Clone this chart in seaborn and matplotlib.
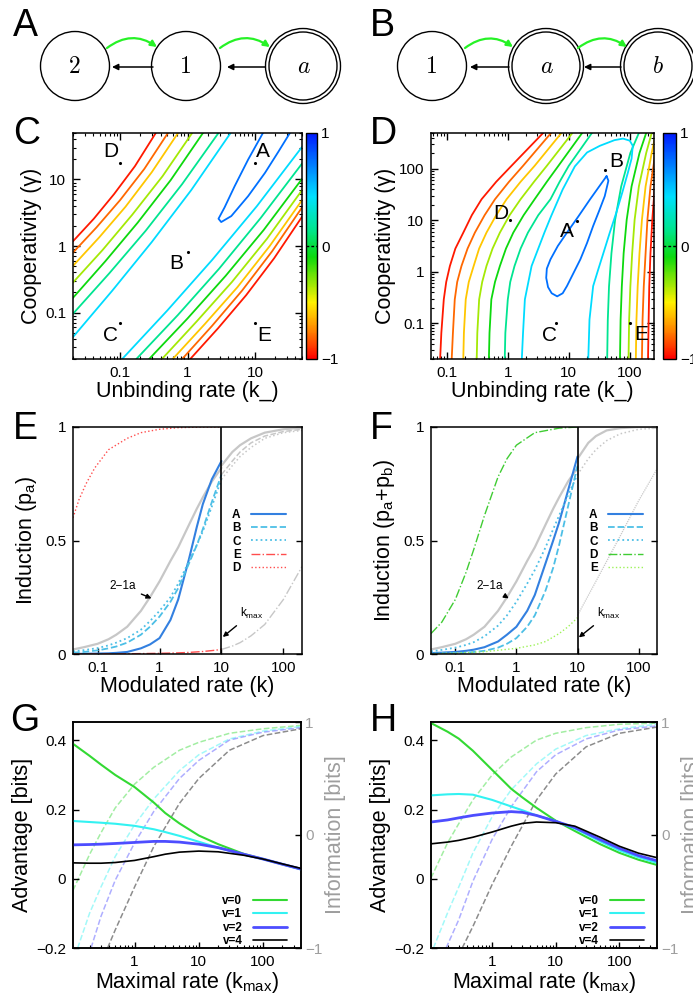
import numpy as np
import matplotlib
matplotlib.use("Agg")
import matplotlib.pyplot as plt
import seaborn as sns
from matplotlib.colors import LinearSegmentedColormap, Normalize
from matplotlib.cm import ScalarMappable
from matplotlib.patches import Circle, FancyArrowPatch
import matplotlib.ticker as mticker

# ---------------------------------------------------------------- data
# network diagrams (A, B)
netA_labels = ["2", "1", "a"]
netA_double = [False, False, True]
netB_labels = ["1", "a", "b"]
netB_double = [False, True, True]

# contour levels (colour values on the -1..1 scale)
side_levels = [-0.95, -0.8, -0.6, -0.35, -0.1, 0.15, 0.45]
loop_level_C = 0.75
D_left_levels = [-0.95, -0.8, -0.6, -0.35, -0.1, 0.15]
D_right_levels = [0.15, -0.1, -0.35, -0.6, -0.8, -0.95]
D_outer_loop_level = 0.45
D_inner_loop_level = 0.75

# panel C contour lines (log10 k_, log10 gamma)
C_ul_lx = [[-1.70, -1.39, -1.09, -0.78, -0.47],
           [-1.70, -1.35, -1.00, -0.64, -0.29],
           [-1.70, -1.31, -0.92, -0.53, -0.14],
           [-1.70, -1.26, -0.82, -0.37, 0.07],
           [-1.70, -1.22, -0.74, -0.25, 0.23],
           [-1.70, -1.16, -0.62, -0.08, 0.46],
           [-1.70, -1.115, -0.53, 0.055, 0.64]]
C_ul_ly = [[0.07, 0.41, 0.78, 1.20, 1.70],
           [-0.10, 0.28, 0.69, 1.16, 1.70],
           [-0.30, 0.13, 0.59, 1.11, 1.70],
           [-0.55, -0.06, 0.47, 1.05, 1.70],
           [-0.78, -0.23, 0.35, 0.99, 1.70],
           [-1.02, -0.41, 0.23, 0.93, 1.70],
           [-1.37, -0.67, 0.06, 0.84, 1.70]]
C_lr_lx = [[0.04, 0.455, 0.87, 1.285, 1.70],
           [-0.08, 0.365, 0.81, 1.255, 1.70],
           [-0.22, 0.26, 0.74, 1.22, 1.70],
           [-0.38, 0.14, 0.66, 1.18, 1.70],
           [-0.57, 0.0, 0.565, 1.13, 1.70],
           [-0.76, -0.145, 0.47, 1.085, 1.70],
           [-0.97, -0.30, 0.365, 1.03, 1.70]]
C_lr_ly = [[-1.70, -1.235, -0.74, -0.185, 0.44],
           [-1.70, -1.20, -0.67, -0.08, 0.58],
           [-1.70, -1.17, -0.62, 0.00, 0.69],
           [-1.70, -1.13, -0.54, 0.11, 0.84],
           [-1.70, -1.09, -0.45, 0.24, 1.01],
           [-1.70, -1.04, -0.34, 0.42, 1.24],
           [-1.70, -0.97, -0.21, 0.60, 1.49]]
C_loop_lx = [1.12, 0.90, 0.70, 0.55, 0.46, 0.50, 0.65, 0.90, 1.15, 1.35, 1.52]
C_loop_ly = [1.70, 1.30, 0.90, 0.58, 0.41, 0.36, 0.45, 0.75, 1.10, 1.42, 1.70]

# panel D contour lines
D_left_ly = [-1.70, -1.19, -0.54, -0.20, 0.11, 0.45, 0.76, 1.10, 1.41, 1.75, 2.06, 2.70]
D_left_lx = [[-1.11, -1.09, -1.05, -1.01, -0.95, -0.86, -0.73, -0.59, -0.43, -0.19, 0.06, 0.58],
             [-0.92, -0.90, -0.87, -0.83, -0.76, -0.66, -0.54, -0.38, -0.21, 0.02, 0.25, 0.71],
             [-0.73, -0.72, -0.69, -0.64, -0.56, -0.47, -0.35, -0.19, -0.02, 0.21, 0.44, 0.88],
             [-0.51, -0.50, -0.47, -0.42, -0.35, -0.25, -0.13, 0.03, 0.21, 0.43, 0.64, 1.06],
             [-0.31, -0.30, -0.27, -0.21, -0.13, -0.03, 0.09, 0.26, 0.44, 0.64, 0.83, 1.22],
             [-0.05, -0.04, 0.00, 0.04, 0.11, 0.21, 0.33, 0.50, 0.70, 0.85, 1.00, 1.38]]
D_right_ly = [-1.70, -0.94, -0.29, 0.36, 1.01, 1.66, 2.31, 2.70]
D_right_lx = [[1.63, 1.64, 1.66, 1.70, 1.76, 1.86, 2.01, 2.15],
              [1.84, 1.85, 1.87, 1.90, 1.95, 2.03, 2.16, 2.27],
              [1.98, 1.99, 2.01, 2.04, 2.08, 2.15, 2.27, 2.36],
              [2.10, 2.11, 2.13, 2.16, 2.20, 2.26, 2.36, 2.43],
              [2.20, 2.21, 2.23, 2.26, 2.29, 2.34, 2.42, 2.48],
              [2.30, 2.31, 2.32, 2.34, 2.37, 2.41, 2.47, 2.52]]
D_outer_lx = [0.23, 0.25, 0.28, 0.39, 0.60, 0.71, 0.90, 1.10, 1.30, 1.51, 1.75, 1.89,
              2.00, 2.05, 2.03, 1.97, 1.88, 1.78, 1.67, 1.57, 1.48, 1.40, 1.34, 1.32]
D_outer_ly = [-1.70, -1.19, -0.54, 0.11, 0.76, 1.08, 1.60, 2.05, 2.32, 2.45, 2.56, 2.59,
              2.55, 2.45, 2.20, 1.93, 1.55, 1.15, 0.75, 0.37, 0.03, -0.28, -0.93, -1.70]
D_inner_lx = [1.62, 1.50, 1.35, 1.16, 0.97, 0.82, 0.70, 0.64, 0.63, 0.66, 0.72, 0.81,
              0.90, 0.97, 1.08, 1.19, 1.30, 1.40, 1.50, 1.59, 1.65, 1.62]
D_inner_ly = [1.86, 1.66, 1.41, 1.08, 0.76, 0.50, 0.24, 0.06, -0.12, -0.30, -0.42, -0.48,
              -0.42, -0.28, -0.02, 0.24, 0.56, 0.89, 1.19, 1.47, 1.77, 1.86]

# marked parameter points
pt_names = ["A", "B", "C", "D", "E"]
C_pt_k = [10, 1.0, 0.1, 0.1, 10]
C_pt_g = [18, 0.8, 0.07, 18, 0.07]
D_pt_k = [13.5, 40, 6.2, 1.1, 100]
D_pt_g = [9.8, 96, 0.1, 10, 0.1]

# panel E / F induction curves
k_left = [0.04, 0.06, 0.1, 0.15, 0.2, 0.3, 0.5, 0.7, 1, 1.5, 2, 3, 4, 5, 7, 10]
ref_2_1a = [0.02, 0.03, 0.045, 0.065, 0.085, 0.12, 0.19, 0.25, 0.32, 0.41, 0.47,
            0.57, 0.64, 0.69, 0.76, 0.82]
E_A = [0.0, 0.001, 0.002, 0.003, 0.005, 0.009, 0.025, 0.042, 0.07, 0.15, 0.24,
       0.42, 0.56, 0.66, 0.77, 0.85]
E_B = [0.006, 0.009, 0.016, 0.025, 0.033, 0.05, 0.085, 0.12, 0.165, 0.23, 0.29,
       0.40, 0.48, 0.55, 0.67, 0.79]
E_C = [0.012, 0.017, 0.026, 0.038, 0.05, 0.07, 0.107, 0.145, 0.19, 0.25, 0.31,
       0.41, 0.48, 0.54, 0.65, 0.77]
E_E_k = [0.04, 0.1, 0.3, 1, 2, 3, 5, 7, 10]
E_E = [0.0, 0.0, 0.001, 0.003, 0.005, 0.007, 0.011, 0.015, 0.02]
E_D_k = [0.04, 0.05, 0.065, 0.09, 0.15, 0.3, 0.5, 1, 2, 5, 10]
E_D = [0.60, 0.68, 0.75, 0.82, 0.90, 0.95, 0.975, 0.99, 0.997, 1.0, 1.0]
k_right = [10, 15, 20, 30, 50, 100, 200]
E_gray_solid = [0.83, 0.89, 0.92, 0.95, 0.975, 0.99, 0.997]
E_gray_dash = [0.79, 0.85, 0.89, 0.93, 0.96, 0.98, 0.99]
E_gray_dot = [0.77, 0.83, 0.87, 0.91, 0.95, 0.975, 0.985]
E_gray_dashdot = [0.02, 0.035, 0.05, 0.08, 0.13, 0.24, 0.385]

F_A = [0.004, 0.006, 0.009, 0.014, 0.019, 0.03, 0.055, 0.085, 0.12, 0.19, 0.26,
       0.40, 0.50, 0.58, 0.72, 0.87]
F_B = [0.001, 0.002, 0.004, 0.006, 0.009, 0.014, 0.028, 0.045, 0.07, 0.12, 0.17,
       0.28, 0.38, 0.48, 0.65, 0.83]
F_C = [0.012, 0.018, 0.028, 0.04, 0.052, 0.078, 0.125, 0.17, 0.23, 0.31, 0.37,
       0.47, 0.55, 0.61, 0.70, 0.79]
F_D_k = [0.04, 0.06, 0.1, 0.15, 0.2, 0.3, 0.5, 0.7, 1, 2, 5, 10]
F_D = [0.09, 0.14, 0.24, 0.36, 0.46, 0.61, 0.78, 0.86, 0.92, 0.975, 0.995, 1.0]
F_E_k = [0.04, 0.1, 0.3, 1, 2, 3, 5, 7, 10]
F_E = [0.002, 0.004, 0.01, 0.025, 0.04, 0.055, 0.09, 0.12, 0.16]
F_gray_solid = [0.86, 0.93, 0.96, 0.985, 0.995, 1.0, 1.0]
F_gray_dot = [0.79, 0.86, 0.90, 0.94, 0.97, 0.99, 0.995]
F_gray_E_k = [10, 20, 50, 100, 200]
F_gray_E = [0.17, 0.32, 0.52, 0.675, 0.815]

# panel G / H advantage & information
v_labels = ["v=0", "v=1", "v=2", "v=4"]
kmax = [0.11, 0.2, 0.3, 0.5, 1, 2, 3, 5, 10, 20, 50, 100, 200, 390]
G_adv = [[0.39, 0.355, 0.33, 0.30, 0.265, 0.22, 0.19, 0.16, 0.125, 0.10, 0.072, 0.057, 0.042, 0.028],
         [0.167, 0.164, 0.162, 0.159, 0.153, 0.143, 0.135, 0.124, 0.107, 0.09, 0.07, 0.057, 0.042, 0.027],
         [0.098, 0.099, 0.10, 0.102, 0.105, 0.108, 0.108, 0.106, 0.10, 0.09, 0.071, 0.057, 0.042, 0.028],
         [0.046, 0.045, 0.045, 0.047, 0.053, 0.064, 0.071, 0.077, 0.08, 0.078, 0.068, 0.057, 0.043, 0.030]]
G_info_k = [[0.11, 0.2, 0.3, 0.5, 1, 2, 5, 10, 30, 100, 390],
            [0.13, 0.2, 0.3, 0.5, 1, 2, 5, 10, 30, 100, 390],
            [0.21, 0.3, 0.5, 1, 2, 5, 10, 30, 100, 390],
            [0.38, 0.5, 1, 2, 5, 10, 30, 100, 390]]
G_info = [[-0.49, -0.17, 0.02, 0.24, 0.45, 0.60, 0.75, 0.82, 0.90, 0.94, 0.97],
          [-1.0, -0.69, -0.46, -0.19, 0.09, 0.32, 0.57, 0.71, 0.85, 0.92, 0.96],
          [-1.0, -0.72, -0.40, -0.07, 0.21, 0.50, 0.66, 0.84, 0.91, 0.95],
          [-1.0, -0.84, -0.46, -0.10, 0.28, 0.50, 0.75, 0.88, 0.94]]
H_adv = [[0.45, 0.425, 0.405, 0.37, 0.315, 0.26, 0.235, 0.205, 0.168, 0.138, 0.10, 0.075, 0.055, 0.04],
         [0.241, 0.244, 0.245, 0.243, 0.228, 0.209, 0.198, 0.183, 0.167, 0.145, 0.108, 0.082, 0.062, 0.046],
         [0.164, 0.17, 0.176, 0.183, 0.19, 0.194, 0.192, 0.183, 0.166, 0.148, 0.113, 0.088, 0.067, 0.052],
         [0.101, 0.106, 0.111, 0.12, 0.135, 0.152, 0.16, 0.164, 0.162, 0.152, 0.12, 0.094, 0.074, 0.061]]
H_info_k = [[0.11, 0.2, 0.3, 0.5, 1, 2, 5, 10, 30, 100, 390],
            [0.12, 0.2, 0.3, 0.5, 1, 2, 5, 10, 30, 100, 390],
            [0.19, 0.3, 0.5, 1, 2, 5, 10, 30, 100, 390],
            [0.34, 0.5, 1, 2, 5, 10, 30, 100, 390]]
H_info = [[-0.38, -0.07, 0.10, 0.31, 0.53, 0.69, 0.84, 0.90, 0.95, 0.98, 0.99],
          [-1.0, -0.69, -0.46, -0.16, 0.16, 0.40, 0.63, 0.76, 0.88, 0.94, 0.98],
          [-1.0, -0.75, -0.41, -0.04, 0.25, 0.56, 0.71, 0.85, 0.93, 0.965],
          [-1.0, -0.81, -0.44, -0.10, 0.31, 0.54, 0.78, 0.90, 0.955]]

# ---------------------------------------------------------------- style
sns.set_theme(style="ticks")
plt.rcParams["font.family"] = ["Liberation Sans", "DejaVu Sans"]
plt.rcParams.update({
    "mathtext.default": "regular",
    "axes.edgecolor": "black", "axes.linewidth": 1.1,
    "xtick.color": "black", "ytick.color": "black",
    "xtick.direction": "in", "ytick.direction": "in",
    "text.color": "black", "axes.labelcolor": "black",
    "xtick.labelsize": 11, "ytick.labelsize": 11,
    "axes.labelsize": 15.5,
})

cmap = LinearSegmentedColormap.from_list("rainbow_r", [
    (0.00, (1.0, 0.0, 0.0)), (0.12, (1.0, 0.5, 0.0)), (0.25, (1.0, 0.95, 0.0)),
    (0.45, (0.05, 0.85, 0.05)), (0.57, (0.0, 0.9, 0.55)), (0.72, (0.0, 0.88, 1.0)),
    (1.00, (0.0, 0.1, 1.0))])
norm = Normalize(-1, 1)

W, H = 693, 999
fig = plt.figure(figsize=(W / 100, H / 100), dpi=100)


def px_axes(l, t, r, b):
    return fig.add_axes([l / W, 1 - b / H, (r - l) / W, (b - t) / H])


def letter(x, y, s):
    fig.text(x / W, 1 - y / H, s, fontsize=27, va="top", ha="left")


# ---------------------------------------------------------------- A, B diagrams
axd = px_axes(0, 0, W, 120)
axd.set_xlim(0, W)
axd.set_ylim(120, 0)
axd.axis("off")
node_y = 66
nodesA_x = [75, 186, 303]
nodesB_x = [432, 546, 658]
for xs, labs, dbl in [(nodesA_x, netA_labels, netA_double), (nodesB_x, netB_labels, netB_double)]:
    for cx, lab, d in zip(xs, labs, dbl):
        if d:
            axd.add_patch(Circle((cx, node_y), 37.5, fill=False, ec="black", lw=1.0))
            axd.add_patch(Circle((cx, node_y), 34.0, fill=False, ec="black", lw=1.0))
        else:
            axd.add_patch(Circle((cx, node_y), 34.5, fill=False, ec="black", lw=1.0))
        fam = "cmr10" if lab.isdigit() else "cmmi10"
        axd.text(cx, node_y + 1, lab, family=fam, fontsize=17, ha="center", va="center")
green_arrows = [(107, 48, 157, 47), (220, 48, 270, 47), (465, 48, 513, 47), (578, 48, 627, 47)]
black_arrows = [(153, 67, 112, 67), (265, 67, 227, 67), (509, 67, 470, 67), (621, 67, 584, 67)]
for x0, y0, x1, y1 in green_arrows:
    axd.add_patch(FancyArrowPatch((x0, y0), (x1, y1), connectionstyle="arc3,rad=-0.36",
                                  arrowstyle="-|>", mutation_scale=9, color=(0.15, 0.95, 0.15),
                                  lw=1.6, shrinkA=0, shrinkB=0))
for x0, y0, x1, y1 in black_arrows:
    axd.add_patch(FancyArrowPatch((x0, y0), (x1, y1), arrowstyle="-|>", mutation_scale=9,
                                  color="black", lw=1.1, shrinkA=0, shrinkB=0))
letter(13, 8, "A")
letter(370, 8, "B")


# ---------------------------------------------------------------- C, D contour panels
def draw_path(ax, lx, ly, level):
    sns.lineplot(x=10 ** np.asarray(lx, float), y=10 ** np.asarray(ly, float), sort=False,
                 estimator=None, ax=ax, color=cmap(norm(level)), lw=1.3, legend=False)


def log_frame(ax, xt, yt):
    ax.set_xscale("log")
    ax.set_yscale("log")
    ax.set_xticks(xt)
    ax.set_xticklabels([f"{t:g}" for t in xt])
    ax.set_yticks(yt)
    ax.set_yticklabels([f"{t:g}" for t in yt])
    ax.tick_params(which="both", top=True, right=True, direction="in")
    ax.tick_params(which="major", length=5, width=1, pad=5)
    ax.tick_params(which="minor", length=2.5, width=0.8)


def colorbar(l, t, r, b):
    cax = px_axes(l, t, r, b)
    cb = fig.colorbar(ScalarMappable(norm=norm, cmap=cmap), cax=cax, ticks=[-1, 0, 1])
    cb.ax.set_yticklabels(["\u22121", "0", "1"])
    cb.ax.tick_params(length=0, labelsize=11, pad=3)
    cb.outline.set_linewidth(1.0)
    cax.axhline(0, color="black", ls="--", lw=1.0, dashes=(2, 1.5))


def point_labels(ax, ks, gs, offsets):
    sns.scatterplot(x=ks, y=gs, ax=ax, color="black", s=5, linewidth=0, legend=False, zorder=5)
    for name, k, g, (dx, dy) in zip(pt_names, ks, gs, offsets):
        ax.annotate(name, (k, g), xytext=(dx, dy), textcoords="offset points",
                    ha="center", va="center", fontsize=15)


axC = px_axes(73, 133, 302, 359)
for lx, ly, lev in zip(C_ul_lx, C_ul_ly, side_levels):
    draw_path(axC, lx, ly, lev)
for lx, ly, lev in zip(C_lr_lx, C_lr_ly, side_levels):
    draw_path(axC, lx, ly, lev)
draw_path(axC, C_loop_lx, C_loop_ly, loop_level_C)
log_frame(axC, [0.1, 1, 10], [0.1, 1, 10])
axC.set_xlim(0.02, 50)
axC.set_ylim(0.02, 50)
point_labels(axC, C_pt_k, C_pt_g, [(6, 8), (-8, -8), (-7, -9), (-7, 8), (7, -9)])
axC.set_xlabel("Unbinding rate (k_)", labelpad=1)
axC.set_ylabel("Cooperativity (\u03b3)", labelpad=2)
colorbar(306, 133, 317, 359)
letter(13, 116, "C")

axD = px_axes(431, 133, 654, 359)
for lx, lev in zip(D_left_lx, D_left_levels):
    draw_path(axD, lx, D_left_ly, lev)
for lx, lev in zip(D_right_lx, D_right_levels):
    draw_path(axD, lx, D_right_ly, lev)
draw_path(axD, D_outer_lx, D_outer_ly, D_outer_loop_level)
draw_path(axD, D_inner_lx, D_inner_ly, D_inner_loop_level)
log_frame(axD, [0.1, 1, 10, 100], [0.1, 1, 10, 100])
axD.set_xlim(0.055, 250)
axD.set_ylim(0.02, 500)
point_labels(axD, D_pt_k, D_pt_g, [(-7, -8), (8, 6), (-5, -9), (-7, 5), (8, -8)])
axD.set_xlabel("Unbinding rate (k_)", labelpad=1)
axD.set_ylabel("Cooperativity (\u03b3)", labelpad=2)
colorbar(663, 133, 676, 359)
letter(370, 116, "D")

# ---------------------------------------------------------------- E, F induction panels
colA = (0.2, 0.5, 0.88)
colBC = (0.3, 0.75, 0.9)
colRed = (1.0, 0.3, 0.3)
colGray = (0.78, 0.78, 0.78)
colDF = (0.25, 0.8, 0.2)
colEF = (0.62, 0.95, 0.35)


def line(ax, x, y, color, lw=1.3, ls="-", label=None, **kw):
    sns.lineplot(x=x, y=y, ax=ax, color=color, lw=lw, linestyle=ls, label=label,
                 legend=False, sort=False, estimator=None, **kw)


def induction_frame(ax, ylabel):
    ax.set_xscale("log")
    ax.set_xlim(0.04, 200)
    ax.set_ylim(0, 1)
    ax.set_xticks([0.1, 1, 10, 100])
    ax.set_xticklabels(["0.1", "1", "10", "100"])
    ax.xaxis.set_minor_locator(mticker.NullLocator())
    ax.set_yticks([0, 0.5, 1])
    ax.set_yticklabels(["0", "0.5", "1"])
    ax.tick_params(which="major", right=True, top=False, length=4, width=1, pad=5)
    ax.axvline(10, color="black", lw=1.2)
    ax.set_xlabel("Modulated rate (k)", labelpad=1)
    ax.set_ylabel(ylabel, labelpad=4)


def small_legend(ax, handles, labels, x, y):
    leg = ax.legend(handles, labels, loc="upper left", bbox_to_anchor=(x, y), frameon=False,
                    markerfirst=False, handlelength=2.9, handletextpad=0.9,
                    labelspacing=0.12, borderpad=0, borderaxespad=0,
                    prop={"weight": "bold", "size": 8.5})
    return leg


axE = px_axes(73, 427, 302, 654)
line(axE, k_left, ref_2_1a, colGray, lw=1.6)
line(axE, k_right, E_gray_solid, colGray, lw=1.6)
line(axE, k_right, E_gray_dash, colGray, lw=1.1, ls="--")
line(axE, k_right, E_gray_dot, colGray, lw=1.1, ls=":")
line(axE, k_right, E_gray_dashdot, colGray, lw=1.0, ls="-.")
line(axE, k_left, E_A, colA, lw=1.5, label="A")
line(axE, k_left, E_B, colBC, lw=1.3, ls="--", label="B")
line(axE, k_left, E_C, colBC, lw=1.3, ls=":", label="C")
line(axE, E_E_k, E_E, colRed, lw=1.0, ls="-.", label="E")
line(axE, E_D_k, E_D, colRed, lw=1.0, ls=":", label="D")
induction_frame(axE, "Induction (p$_a$)")
h, l = axE.get_legend_handles_labels()
small_legend(axE, h, l, 0.695, 0.64)
axE.annotate("2\u22121a", xy=(0.74, 0.245), xytext=(0.25, 0.30), ha="center", va="center",
             fontsize=8.5, arrowprops=dict(arrowstyle="-|>", color="black", lw=1.0,
                                           mutation_scale=7, shrinkA=2, shrinkB=0))
axE.annotate("k$_{max}$", xy=(10.5, 0.075), xytext=(31, 0.18), ha="center", va="center",
             fontsize=8.5, arrowprops=dict(arrowstyle="-|>", color="black", lw=1.0,
                                           mutation_scale=7, shrinkA=2, shrinkB=0))
letter(13, 411, "E")

axF = px_axes(431, 427, 657, 654)
line(axF, k_left, ref_2_1a, colGray, lw=1.6)
line(axF, k_right, F_gray_solid, colGray, lw=1.6)
line(axF, k_right, F_gray_dot, colGray, lw=1.1, ls=":")
line(axF, F_gray_E_k, F_gray_E, colGray, lw=0.9, ls=(0, (1, 0.8)))
line(axF, k_left, F_A, colA, lw=1.5, label="A")
line(axF, k_left, F_B, colBC, lw=1.3, ls="--", label="B")
line(axF, k_left, F_C, colBC, lw=1.3, ls=":", label="C")
line(axF, F_D_k, F_D, colDF, lw=1.0, ls="-.", label="D")
line(axF, F_E_k, F_E, colEF, lw=1.0, ls=":", label="E")
induction_frame(axF, "Induction (p$_a$+p$_b$)")
h, l = axF.get_legend_handles_labels()
small_legend(axF, h, l, 0.70, 0.64)
axF.annotate("2\u22121a", xy=(0.75, 0.245), xytext=(0.36, 0.30), ha="center", va="center",
             fontsize=8.5, arrowprops=dict(arrowstyle="-|>", color="black", lw=1.0,
                                           mutation_scale=7, shrinkA=2, shrinkB=0))
axF.annotate("k$_{max}$", xy=(10.5, 0.073), xytext=(33, 0.18), ha="center", va="center",
             fontsize=8.5, arrowprops=dict(arrowstyle="-|>", color="black", lw=1.0,
                                           mutation_scale=7, shrinkA=2, shrinkB=0))
letter(370, 411, "F")

# ---------------------------------------------------------------- G, H advantage panels
v_colors = [(0.2, 0.85, 0.2), (0.2, 0.95, 0.95), (0.3, 0.3, 1.0), (0.0, 0.0, 0.0)]
v_widths = [1.5, 1.5, 2.0, 1.2]


def advantage_panel(l, t, r, b, adv, info_k, info):
    ax = px_axes(l, t, r, b)
    ax.set_xscale("log")
    ax2 = ax.twinx()
    for k, w, c in zip(info_k, info, v_colors):
        line(ax2, k, w, c, lw=1.1, ls="--", alpha=0.45)
    for y, c, lw_, lab in zip(adv, v_colors, v_widths, v_labels):
        line(ax, kmax, y, c, lw=lw_, label=lab)
    ax.set_zorder(ax2.get_zorder() + 1)
    ax.patch.set_visible(False)
    ax.set_xlim(0.11, 390)
    ax.set_ylim(-0.2, 0.453)
    ax2.set_ylim(-1, 1)
    ax.set_xticks([1, 10, 100])
    ax.set_xticklabels(["1", "10", "100"])
    ax.xaxis.set_minor_locator(mticker.LogLocator(subs=np.arange(2, 10)))
    ax.xaxis.set_minor_formatter(mticker.NullFormatter())
    ax.set_yticks([-0.2, 0, 0.2, 0.4])
    ax.set_yticklabels(["\u22120.2", "0", "0.2", "0.4"])
    ax.tick_params(which="major", length=4, width=1, pad=5, right=False)
    ax.tick_params(which="minor", length=2.5, width=0.8)
    ax2.set_yticks([-1, 0, 1])
    ax2.set_yticklabels(["\u22121", "0", "1"])
    ax2.tick_params(axis="y", direction="in", length=4, width=1, labelcolor=(0.62, 0.62, 0.62),
                    pad=3)
    ax2.set_ylabel("Information [bits]", color=(0.62, 0.62, 0.62), fontsize=15.5, labelpad=2)
    ax.set_xlabel("Maximal rate (k$_{max}$)", labelpad=1)
    ax.set_ylabel("Advantage [bits]", labelpad=2)
    h, lb = ax.get_legend_handles_labels()
    small_legend(ax, h, lb, 0.655, 0.235)
    return ax


advantage_panel(73, 722, 301, 948, G_adv, G_info_k, G_info)
letter(10, 703, "G")
advantage_panel(431, 722, 657, 948, H_adv, H_info_k, H_info)
letter(370, 703, "H")

fig.savefig("out.png", dpi=100)
